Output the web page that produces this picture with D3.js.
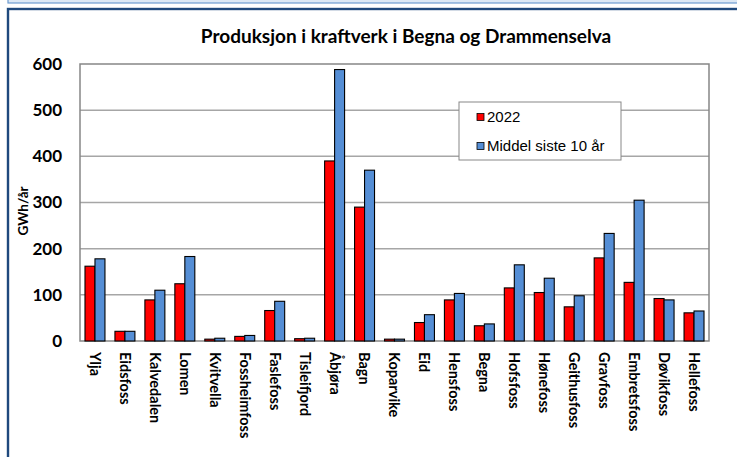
<!DOCTYPE html>
<html><head><meta charset="utf-8">
<script src="https://cdn.jsdelivr.net/npm/d3@7"></script>
<style>body{margin:0;background:#fff}svg{display:block}</style>
</head><body>
<script>
const categories = ["Ylja","Eidsfoss","Kalvedalen","Lomen","Kvitvella","Fossheimfoss","Faslefoss","Tisleifjord","Åbjøra","Bagn","Koparvike","Eid","Hensfoss","Begna","Hofsfoss","Hønefoss","Geithusfoss","Gravfoss","Embretsfoss","Døvikfoss","Hellefoss"];
const values2022 = [162,21,89,124,4,10,66,5,390,290,4,40,89,33,115,105,74,180,127,92,61];
const valuesMiddel = [178,21,110,183,6,12,86,6,588,370,4,57,103,37,165,136,98,233,305,89,65];
const seriesNames = ["2022","Middel siste 10 år"];
const yTicks = [0,100,200,300,400,500,600];
const colors = ["#ff0000","#558ed5"];

const W=737,H=457;
const svg=d3.select("body").append("svg").attr("width",W).attr("height",H);
// frames
svg.append("rect").attr("x",8).attr("y",-10).attr("width",W).attr("height",13).attr("fill","#dce8f5").attr("stroke","#6d9bd0").attr("stroke-width",1.2);
svg.append("rect").attr("x",8).attr("y",9).attr("width",W+10).attr("height",H+10).attr("fill","#fff").attr("stroke","#1f497d").attr("stroke-width",2.4);

const m={l:80,r:709,t:64,b:341};
const x=d3.scaleBand().domain(categories).range([m.l,m.r]).paddingInner(1/3).paddingOuter(1/6);
const xs=d3.scaleBand().domain([0,1]).range([0,x.bandwidth()]);
const y=d3.scaleLinear().domain([0,600]).range([m.b,m.t]);

// grid
svg.append("g").selectAll("line").data(yTicks.filter(t=>t>0&&t<600)).join("line")
 .attr("x1",m.l).attr("x2",m.r).attr("y1",d=>y(d)).attr("y2",d=>y(d)).attr("stroke","#a6a6a6").attr("stroke-width",1.5);
svg.append("rect").attr("x",m.l).attr("y",m.t).attr("width",m.r-m.l).attr("height",m.b-m.t).attr("fill","none").attr("stroke","#868686").attr("stroke-width",1.5);

// y axis
const ya=svg.append("g").attr("transform",`translate(${m.l},0)`).call(d3.axisLeft(y).tickValues(yTicks).tickSize(0).tickPadding(18));
ya.select(".domain").remove();
ya.selectAll("text").attr("font-family","Lato, 'Open Sans', sans-serif").attr("font-weight","bold").attr("font-size",17).attr("fill","#000");

// bars
const data=categories.map((c,i)=>({c,v:[values2022[i],valuesMiddel[i]]}));
const g=svg.append("g").selectAll("g").data(data).join("g").attr("transform",d=>`translate(${x(d.c)},0)`);
g.selectAll("rect").data(d=>d.v.map((v,k)=>({v,k}))).join("rect")
 .attr("x",d=>xs(d.k)).attr("width",xs.bandwidth()).attr("y",d=>y(d.v)).attr("height",d=>y(0)-y(d.v))
 .attr("fill",d=>colors[d.k]).attr("stroke","#000").attr("stroke-width",1.1);

// x labels
const xa=svg.append("g").attr("transform",`translate(0,${m.b})`).call(d3.axisBottom(x).tickSize(0).tickPadding(0));
xa.select(".domain").remove();
xa.selectAll("text").attr("font-family","Lato, 'Open Sans', sans-serif").attr("font-weight","bold").attr("font-size",14.5).attr("fill","#000")
 .attr("transform","translate(0,11) rotate(90)").attr("text-anchor","start").attr("dy","0.35em").attr("x",0).attr("y",0);

// title
svg.append("text").attr("x",406).attr("y",43).attr("text-anchor","middle").attr("font-family","Lato, 'Open Sans', sans-serif").attr("font-weight","bold").attr("font-size",19).text("Produksjon i kraftverk i Begna og Drammenselva");
// y title
svg.append("text").attr("transform","translate(28,211) rotate(-90)").attr("text-anchor","middle").attr("font-family","Lato, 'Open Sans', sans-serif").attr("font-weight","bold").attr("font-size",13.5).text("GWh/år");

// legend
const lg=svg.append("g");
lg.append("rect").attr("x",459).attr("y",102).attr("width",162).attr("height",58).attr("fill","#fff").attr("stroke","#888").attr("stroke-width",1);
seriesNames.forEach((s,i)=>{
  const cy=[117,146][i];
  lg.append("rect").attr("x",477).attr("y",cy-3.5).attr("width",7).attr("height",7).attr("fill",colors[i]).attr("stroke","#000").attr("stroke-width",0.8);
  lg.append("text").attr("x",487).attr("y",cy).attr("dy","0.35em").attr("font-family","'Liberation Sans', Arial, sans-serif").attr("font-size",15).text(s);
});
</script>
</body></html>
